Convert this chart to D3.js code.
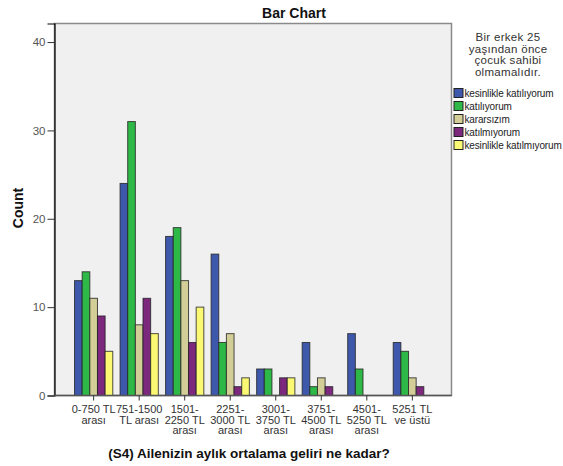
<!DOCTYPE html>
<html>
<head>
<meta charset="utf-8">
<script src="https://cdnjs.cloudflare.com/ajax/libs/d3/7.8.5/d3.min.js"></script>
<style>
  body { margin: 0; background: white; }
  svg { display: block; font-family: "Liberation Sans", Arial, sans-serif; }
</style>
</head>
<body>
<div id="chart"></div>
<script>
var categories = [
  [ "0-750 TL", "arası" ],
  [ "751-1500", "TL arası" ],
  [ "1501-", "2250 TL", "arası" ],
  [ "2251-", "3000 TL", "arası" ],
  [ "3001-", "3750 TL", "arası" ],
  [ "3751-", "4500 TL", "arası" ],
  [ "4501-", "5250 TL", "arası" ],
  [ "5251 TL", "ve üstü" ]
];

var seriesNames = [ "kesinlikle katılıyorum", "katılıyorum", "kararsızım", "katılmıyorum", "kesinlikle katılmıyorum" ];

// counts per income group, one array per answer
var kesinlikleKatiliyorum = [ 13, 24, 18, 16, 3, 6, 7, 6 ];
var katiliyorum = [ 14, 31, 19, 6, 3, 1, 3, 5 ];
var kararsizim = [ 11, 8, 13, 7, 0, 2, 0, 2 ];
var katilmiyorum = [ 9, 11, 6, 1, 2, 1, 0, 1 ];
var kesinlikleKatilmiyorum = [ 5, 7, 10, 2, 2, 0, 0, 0 ];

var yTicks = [ 0, 10, 20, 30, 40 ];
var legendTitle = [ "Bir erkek 25", "yaşından önce", "çocuk sahibi", "olmamalıdır." ];

var colors = [ "#3e58ac", "#2eb848", "#d3ce97", "#7b287d", "#fbf873" ];

var width = 563, height = 466;
var plotLeft = 54.5, plotRight = 451.5, plotTop = 23.5, plotBottom = 395.5;

var values = [ kesinlikleKatiliyorum, katiliyorum, kararsizim, katilmiyorum, kesinlikleKatilmiyorum ];
var catKeys = categories.map( function ( c ) { return c.join( " " ); } );

var data = [];
catKeys.forEach( function ( key, i ) {
  values.forEach( function ( arr, s ) {
    data.push( { cat: key, series: seriesNames[ s ], value: arr[ i ], s: s } );
  } );
} );

var svg = d3.select( "#chart" ).append( "svg" )
  .attr( "width", width )
  .attr( "height", height );

var x0 = d3.scaleBand()
  .domain( catKeys )
  .range( [ plotLeft, plotRight ] )
  .paddingInner( 0.16 )
  .paddingOuter( 0.44 );

var x1 = d3.scaleBand()
  .domain( seriesNames )
  .range( [ 0, x0.bandwidth() ] );

var y = d3.scaleLinear()
  .domain( [ 0, 42.1 ] )
  .range( [ plotBottom, plotTop ] );

// plot background + frame
svg.append( "rect" )
  .attr( "x", plotLeft ).attr( "y", plotTop )
  .attr( "width", plotRight - plotLeft ).attr( "height", plotBottom - plotTop )
  .attr( "fill", "#f0f0f0" )
  .attr( "stroke", "#8a8a8a" )
  .attr( "stroke-width", 1.5 );

svg.append( "g" )
  .selectAll( "rect" )
  .data( data.filter( function ( d ) { return d.value > 0; } ) )
  .enter().append( "rect" )
  .attr( "x", function ( d ) { return x0( d.cat ) + x1( d.series ); } )
  .attr( "y", function ( d ) { return y( d.value ); } )
  .attr( "width", x1.bandwidth() )
  .attr( "height", function ( d ) { return y( 0 ) - y( d.value ); } )
  .attr( "fill", function ( d ) { return colors[ d.s ]; } )
  .attr( "stroke", "#222" )
  .attr( "stroke-opacity", 0.8 )
  .attr( "stroke-width", 1 );

// y axis
var yAxis = svg.append( "g" )
  .attr( "transform", "translate(" + plotLeft + ",0)" )
  .call( d3.axisLeft( y ).tickValues( yTicks ).tickSize( 7 ).tickPadding( 2 ) );
yAxis.attr( "font-family", null ).attr( "font-size", null );
yAxis.select( ".domain" ).attr( "stroke", "#000" ).attr( "stroke-width", 1.2 );
yAxis.selectAll( ".tick line" ).attr( "stroke", "#333" );
yAxis.selectAll( "text" )
  .attr( "fill", "#555" )
  .style( "font-size", "11.5px" );

// x axis
var xAxis = svg.append( "g" )
  .attr( "transform", "translate(0," + plotBottom + ")" )
  .call( d3.axisBottom( x0 ).tickSize( 5 ).tickSizeOuter( 0 ).tickFormat( "" ) );
xAxis.attr( "font-family", null ).attr( "font-size", null );
xAxis.select( ".domain" ).attr( "stroke", "#555" ).attr( "stroke-width", 1.5 )
  .attr( "d", "M" + plotLeft + ",0H" + plotRight );
xAxis.selectAll( ".tick line" ).attr( "stroke", "#333" );

xAxis.selectAll( ".tick" ).each( function ( key, i ) {
  var t = d3.select( this ).append( "text" )
    .attr( "fill", "#333" )
    .attr( "text-anchor", "middle" )
    .style( "font-size", "11px" );
  categories[ i ].forEach( function ( line, j ) {
    t.append( "tspan" )
      .attr( "x", 0 )
      .attr( "y", 17.5 + j * 10.7 )
      .text( line );
  } );
} );

// titles
svg.append( "text" )
  .attr( "x", 294 ).attr( "y", 18 )
  .attr( "text-anchor", "middle" )
  .style( "font-size", "14px" ).style( "font-weight", "bold" )
  .attr( "fill", "#111" )
  .text( "Bar Chart" );

svg.append( "text" )
  .attr( "x", 249 ).attr( "y", 458 )
  .attr( "text-anchor", "middle" )
  .style( "font-size", "13.5px" ).style( "font-weight", "bold" )
  .attr( "fill", "#111" )
  .text( "(S4) Ailenizin aylık ortalama geliri ne kadar?" );

svg.append( "text" )
  .attr( "transform", "translate(23,208) rotate(-90)" )
  .attr( "text-anchor", "middle" )
  .style( "font-size", "14px" ).style( "font-weight", "bold" )
  .attr( "fill", "#111" )
  .text( "Count" );

// legend
var legend = svg.append( "g" );
legend.append( "text" )
  .attr( "text-anchor", "middle" )
  .attr( "fill", "#333" )
  .style( "font-size", "11.5px" )
  .style( "letter-spacing", "0.3px" )
  .selectAll( "tspan" )
  .data( legendTitle )
  .enter().append( "tspan" )
  .attr( "x", 508 )
  .attr( "y", function ( d, i ) { return 41 + i * 11.6; } )
  .text( function ( d ) { return d; } );

var items = legend.selectAll( ".item" )
  .data( seriesNames )
  .enter().append( "g" )
  .attr( "class", "item" )
  .attr( "transform", function ( d, i ) { return "translate(454," + ( 88.5 + i * 13 ) + ")"; } );

items.append( "rect" )
  .attr( "width", 9 ).attr( "height", 9 )
  .attr( "fill", function ( d, i ) { return colors[ i ]; } )
  .attr( "stroke", "#222" )
  .attr( "stroke-width", 1 );

items.append( "text" )
  .attr( "x", 10.5 ).attr( "y", 8.5 )
  .attr( "fill", "#222" )
  .style( "font-size", "10px" )
  .style( "letter-spacing", "-0.15px" )
  .text( function ( d ) { return d; } );
</script>
</body>
</html>
